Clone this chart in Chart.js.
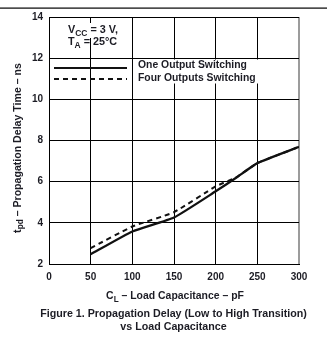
<!DOCTYPE html>
<html>
<head>
<meta charset="utf-8">
<script src="https://cdn.jsdelivr.net/npm/chart.js@4.4.1/dist/chart.umd.min.js"></script>
<style>
html,body{margin:0;padding:0;background:#fff;}
#wrap{width:327px;height:337px;position:relative;}
</style>
</head>
<body>
<div id="wrap"><canvas id="c" width="327" height="337"></canvas></div>
<script>
// ---- data ----
const loadCapacitance = [50, 100, 150, 200, 225, 250, 300];            // pF
const oneOutputSwitching = [2.47, 3.58, 4.26, 5.53, 6.2, 6.9, 7.69];    // ns
const fourOutputsSwitching = [2.77, 3.82, 4.52, 5.77, 6.22, 6.9, 7.69]; // ns
const xTicks = [0, 50, 100, 150, 200, 250, 300];
const yTicks = [2, 4, 6, 8, 10, 12, 14];
const seriesNames = ['One Output Switching', 'Four Outputs Switching'];

const INK = '#1c1c24';
const FONT = '"Liberation Sans", Arial, sans-serif';

function pairs(xs, ys){ return xs.map((x,i)=>({x:x, y:ys[i]})); }

function richWidth(ctx, parts, size){
  let w = 0;
  parts.forEach(p=>{
    ctx.font = 'bold ' + (p.sub ? size*0.78 : size) + 'px ' + FONT;
    w += ctx.measureText(p.t).width;
  });
  return w;
}
function drawRich(ctx, parts, x, y, size, align){
  const w = richWidth(ctx, parts, size);
  let cx = align === 'center' ? x - w/2 : (align === 'right' ? x - w : x);
  ctx.textBaseline = 'middle';
  ctx.textAlign = 'left';
  parts.forEach(p=>{
    const s = p.sub ? size*0.78 : size;
    ctx.font = 'bold ' + s + 'px ' + FONT;
    ctx.fillText(p.t, cx, p.sub ? y + size*0.3 : y);
    cx += ctx.measureText(p.t).width;
  });
  return w;
}
function fitSize(ctx, parts, target){
  return 10 * target / richWidth(ctx, parts, 10);
}

const decor = {
  id: 'decor',
  afterDraw(chart){
    const ctx = chart.ctx;
    ctx.save();
    // top rule
    ctx.fillStyle = '#000';
    ctx.fillRect(0, 7.5, 327, 1.2);

    // conditions annotation
    const a1 = [{t:'V'},{t:'CC',sub:true},{t:' = 3 V,'}];
    const a2 = [{t:'T'},{t:'A',sub:true},{t:' = 25°C'}];
    const sA = fitSize(ctx, a1, 50);
    ctx.fillStyle = '#fff';
    ctx.fillRect(66, 23, 56, 15);
    ctx.fillRect(66, 38, 23, 11);
    ctx.fillRect(92, 38, 30, 11);
    ctx.fillStyle = INK;
    drawRich(ctx, a1, 68, 30.5, sA, 'left');
    drawRich(ctx, a2, 68, 42.5, sA, 'left');

    // legend
    const ds = chart.data.datasets;
    ctx.strokeStyle = '#111';
    ctx.lineWidth = 2;
    ctx.setLineDash([]);
    ctx.beginPath(); ctx.moveTo(54, 68); ctx.lineTo(127, 68); ctx.stroke();
    ctx.setLineDash([5,4]);
    ctx.beginPath(); ctx.moveTo(54, 79); ctx.lineTo(127, 79); ctx.stroke();
    ctx.setLineDash([]);
    const l1 = [{t:ds[0].label}], l2 = [{t:ds[1].label}];
    const sL = fitSize(ctx, l1, 109);
    ctx.fillStyle = '#fff';
    ctx.fillRect(135, 59.5, 123, 24);
    ctx.fillStyle = INK;
    drawRich(ctx, l1, 138, 65.5, sL, 'left');
    drawRich(ctx, l2, 138, 78, sL, 'left');

    // y axis title
    const yt = [{t:'t'},{t:'pd',sub:true},{t:' – Propagation Delay Time – ns'}];
    const sY = fitSize(ctx, yt, 170);
    ctx.save();
    ctx.translate(18, 148);
    ctx.rotate(-Math.PI/2);
    drawRich(ctx, yt, 0, 0, sY, 'center');
    ctx.restore();

    // x axis title
    const xt = [{t:'C'},{t:'L',sub:true},{t:' – Load Capacitance – pF'}];
    const sX = fitSize(ctx, xt, 138);
    drawRich(ctx, xt, 175, 296.5, sX, 'center');

    // caption
    const c1 = [{t:'Figure 1. Propagation Delay (Low to High Transition)'}];
    const c2 = [{t:'vs Load Capacitance'}];
    const sC = fitSize(ctx, c1, 267);
    drawRich(ctx, c1, 173.5, 314, sC, 'center');
    drawRich(ctx, c2, 173.5, 327.5, sC, 'center');
    ctx.restore();
  }
};

new Chart(document.getElementById('c'), {
  type: 'line',
  data: {
    datasets: [
      {
        label: seriesNames[0],
        data: pairs(loadCapacitance, oneOutputSwitching),
        borderColor: '#111', borderWidth: 2.3, pointRadius: 0,
        tension: 0.15, order: 0
      },
      {
        label: seriesNames[1],
        data: pairs(loadCapacitance, fourOutputsSwitching),
        borderColor: '#111', borderWidth: 2, borderDash: [5,4], pointRadius: 0,
        tension: 0.15, order: 1
      }
    ]
  },
  options: {
    responsive: false,
    animation: false,
    devicePixelRatio: 1,
    layout: { padding: { top: 17, right: 28, left: 0, bottom: 0 } },
    plugins: { legend: { display: false }, tooltip: { enabled: false } },
    scales: {
      x: {
        type: 'linear', min: xTicks[0], max: xTicks[xTicks.length-1],
        afterBuildTicks: s => { s.ticks = xTicks.map(v=>({value:v})); },
        afterFit: s => { s.height = 73; },
        ticks: { color: INK, font: { family: FONT, weight: 'bold', size: 10 }, padding: 7, maxRotation: 0 },
        grid: {
          drawTicks: false,
          color: c => (c.tick && c.tick.value === 300) ? '#9c9c9c' : '#000',
          lineWidth: c => (c.tick && c.tick.value === 300) ? 2 : 1
        },
        border: { display: true, color: '#000', width: 1 }
      },
      y: {
        min: yTicks[0], max: yTicks[yTicks.length-1],
        afterBuildTicks: s => { s.ticks = yTicks.map(v=>({value:v})); },
        afterFit: s => { s.width = 49; },
        ticks: { color: INK, font: { family: FONT, weight: 'bold', size: 10 }, padding: 6 },
        grid: { drawTicks: false, color: '#000', lineWidth: 1 },
        border: { display: true, color: '#000', width: 1 }
      }
    }
  },
  plugins: [decor]
});
</script>
</body>
</html>
